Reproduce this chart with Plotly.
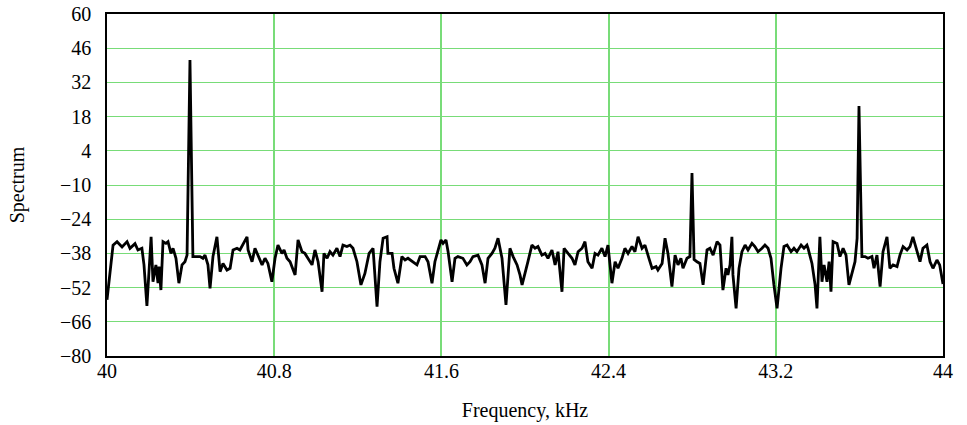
import plotly.graph_objects as go

# Frequency (kHz) and spectrum values
freq_khz = [
    40.000, 40.029, 40.048, 40.072, 40.096, 40.110, 40.134, 40.148, 40.167, 40.177,
    40.191, 40.211, 40.220, 40.234, 40.244, 40.249, 40.258, 40.268, 40.282, 40.292,
    40.306, 40.316, 40.330, 40.344, 40.359, 40.373, 40.383, 40.397, 40.411, 40.421,
    40.445, 40.459, 40.469, 40.483, 40.493, 40.507, 40.526, 40.541, 40.555, 40.574,
    40.589, 40.603, 40.622, 40.636, 40.651, 40.670,
    40.675, 40.694, 40.708, 40.722, 40.742, 40.756, 40.770, 40.789, 40.804, 40.818,
    40.837, 40.847, 40.861, 40.876, 40.900, 40.914, 40.933, 40.947, 40.962, 40.981,
    40.995, 41.010, 41.029, 41.038, 41.053, 41.067, 41.081, 41.100, 41.115, 41.129,
    41.148, 41.163, 41.177, 41.196, 41.215, 41.234, 41.254, 41.273, 41.292, 41.306,
    41.321, 41.340,
    41.344, 41.364, 41.373, 41.392, 41.411, 41.426, 41.440, 41.464, 41.483, 41.498,
    41.522, 41.536, 41.555, 41.569, 41.584, 41.598, 41.608, 41.622, 41.632, 41.651,
    41.665, 41.679, 41.703, 41.722, 41.737, 41.751, 41.775, 41.794, 41.809, 41.823,
    41.842, 41.856, 41.871, 41.890, 41.909, 41.928, 41.943, 41.962, 41.976, 41.986,
    42.014, 42.033, 42.048, 42.062, 42.081, 42.096, 42.110, 42.129, 42.144, 42.158,
    42.177, 42.187, 42.206, 42.225, 42.239, 42.254, 42.273, 42.287, 42.301, 42.321,
    42.335, 42.349, 42.368, 42.383, 42.397, 42.416, 42.431, 42.445, 42.464, 42.478,
    42.493, 42.512, 42.526, 42.541, 42.560, 42.574, 42.593, 42.608, 42.627, 42.636,
    42.656, 42.670,
    42.684, 42.703, 42.718, 42.732, 42.746, 42.756, 42.775, 42.789, 42.799, 42.809,
    42.823, 42.837, 42.852, 42.871, 42.885, 42.900, 42.919, 42.933, 42.947, 42.962,
    42.971, 42.981, 42.990, 42.995, 43.010, 43.024, 43.038, 43.053, 43.067, 43.086,
    43.100, 43.115, 43.134, 43.148, 43.163, 43.177, 43.191, 43.206, 43.225, 43.239,
    43.254, 43.273, 43.287, 43.301, 43.321, 43.335, 43.349,
    43.354, 43.373, 43.388, 43.397, 43.411, 43.421, 43.431, 43.445, 43.455, 43.464,
    43.474, 43.493, 43.507, 43.522, 43.536, 43.550, 43.569, 43.579, 43.589, 43.598,
    43.612, 43.627, 43.641, 43.660, 43.670, 43.684, 43.699, 43.713, 43.732, 43.746,
    43.761, 43.780, 43.794, 43.809, 43.828, 43.842, 43.856, 43.876, 43.890, 43.904,
    43.923, 43.938, 43.952, 43.971, 43.984, 44.000,
]

spectrum = [
    -57.0, -34.6, -33.2, -35.4, -33.2, -35.9, -34.0, -36.6, -35.9, -42.7,
    -59.5, -31.2, -49.6, -42.7, -50.2, -43.4, -53.0, -33.2, -33.9, -33.2,
    -38.0, -35.9, -40.0, -50.2, -42.7, -41.4, -38.7, 41.2, -39.3, -39.3,
    -39.3, -40.0, -38.7, -42.7, -52.3, -39.3, -31.2, -45.5, -42.1, -44.8,
    -44.1, -36.6, -35.9, -36.6, -34.0, -31.2,
    -36.6, -41.4, -35.9, -38.7, -42.7, -40.0, -42.1, -49.6, -40.0, -34.6,
    -38.0, -36.6, -40.0, -41.4, -46.8, -32.5, -37.3, -38.0, -40.0, -42.7,
    -36.6, -41.4, -53.7, -38.0, -40.0, -37.3, -38.7, -35.9, -39.3, -34.6,
    -35.2, -34.6, -35.9, -41.4, -50.9, -46.2, -38.0, -35.9, -59.8, -41.4,
    -31.8, -31.2,
    -38.0, -38.0, -44.1, -50.2, -39.3, -40.7, -40.0, -41.4, -42.7, -39.3,
    -39.3, -41.4, -50.2, -41.4, -37.3, -32.5, -33.9, -32.5, -37.3, -49.6,
    -40.0, -39.3, -40.0, -42.7, -41.4, -39.3, -38.7, -42.7, -50.2, -40.0,
    -38.0, -35.9, -31.8, -40.0, -59.1, -35.9, -39.3, -42.7, -46.8, -50.9,
    -41.4, -34.6, -35.9, -35.2, -38.7, -38.0, -40.0, -36.6, -42.7, -37.3,
    -53.7, -35.9, -38.0, -40.0, -42.7, -37.3, -35.9, -33.2, -41.4, -44.1,
    -38.0, -38.7, -35.9, -39.3, -34.6, -50.2, -41.4, -44.1, -40.0, -35.9,
    -38.0, -35.2, -37.3, -31.2, -35.9, -34.6, -40.0, -44.1, -43.4, -44.8,
    -42.1, -31.8,
    -38.0, -51.6, -38.7, -42.7, -40.0, -44.1, -40.0, -39.3, -5.1, -40.5,
    -41.4, -42.1, -50.9, -36.6, -35.9, -38.7, -33.2, -34.6, -53.0, -44.1,
    -46.8, -42.7, -31.2, -46.8, -60.5, -44.1, -37.3, -34.6, -36.6, -33.9,
    -35.2, -37.3, -35.9, -34.6, -35.9, -40.0, -50.9, -60.5, -44.1, -35.2,
    -34.6, -37.3, -35.9, -37.3, -34.6, -35.9, -34.6,
    -35.9, -42.1, -50.9, -60.5, -31.2, -49.6, -42.7, -49.6, -41.4, -53.7,
    -33.2, -33.9, -39.3, -35.9, -38.7, -50.9, -44.1, -41.4, -31.8, 22.3,
    -39.3, -39.3, -40.0, -39.3, -44.1, -38.7, -51.6, -37.3, -31.2, -44.1,
    -42.7, -43.4, -38.7, -35.2, -36.6, -35.2, -31.2, -37.3, -41.4, -35.9,
    -34.6, -41.4, -44.1, -40.7, -42.7, -50.5,
]

x_ticks = [40, 40.8, 41.6, 42.4, 43.2, 44]
y_ticks = [60, 46, 32, 18, 4, -10, -24, -38, -52, -66, -80]

FONT = "Liberation Serif"
GRID = "#78dc78"

fig = go.Figure()
fig.add_trace(go.Scatter(
    x=freq_khz, y=spectrum, mode="lines",
    line=dict(color="black", width=2.8),
    showlegend=False, hoverinfo="skip",
))

fig.update_layout(
    width=967, height=425,
    margin=dict(l=107, r=24, t=14, b=69, autoexpand=False),
    paper_bgcolor="white", plot_bgcolor="white",
    font=dict(family=FONT, size=20, color="black"),
)
fig.update_xaxes(
    range=[40, 44], tickvals=x_ticks, ticktext=[f"{v:g}" for v in x_ticks],
    showgrid=True, gridcolor=GRID, gridwidth=1.5,
    showline=True, linecolor="black", linewidth=1.5, mirror=True,
    ticks="", ticklabelstandoff=-4,
    zeroline=False, automargin=False,
    title=dict(text="Frequency, kHz", standoff=22, font=dict(family=FONT, size=20)),
)
fig.update_yaxes(
    range=[-80, 60], tickvals=y_ticks,
    showgrid=True, gridcolor=GRID, gridwidth=1.2,
    showline=True, linecolor="black", linewidth=1.5, mirror=True,
    ticks="outside", ticklen=10, tickcolor="rgba(0,0,0,0)",
    zeroline=False, automargin=False,
    title=dict(text="Spectrum", standoff=30, font=dict(family=FONT, size=20)),
)

fig.write_html("out.html", config={"displayModeBar": False},
               post_script="document.body.style.margin='0';")
